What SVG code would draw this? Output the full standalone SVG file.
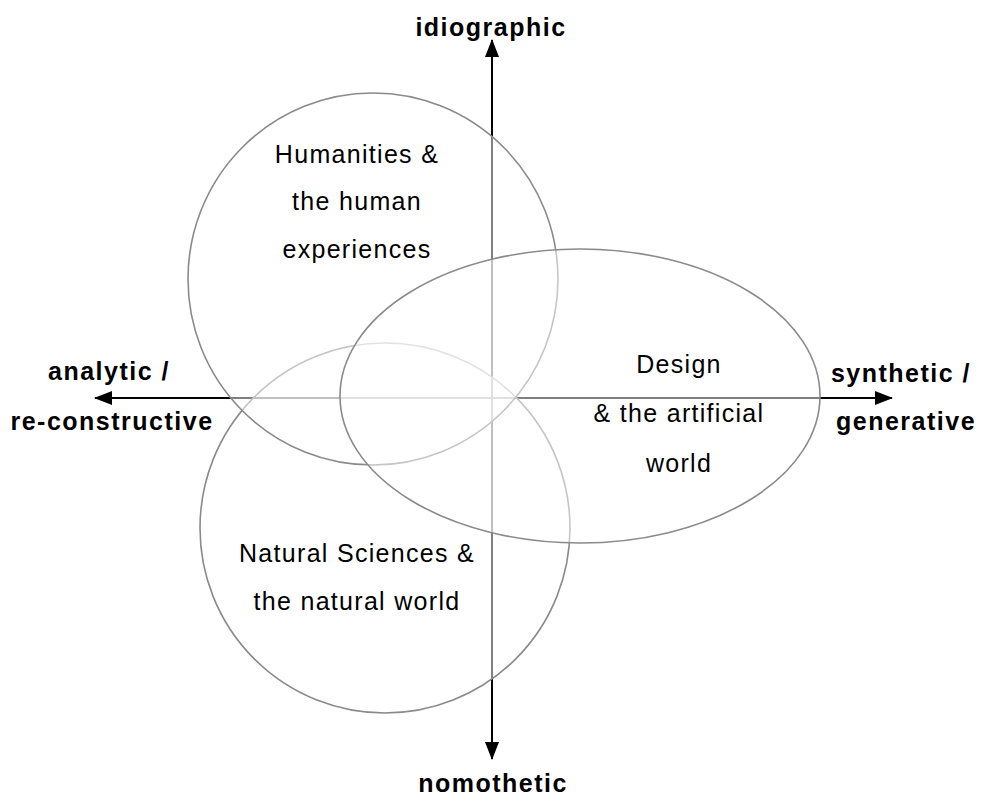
<svg xmlns="http://www.w3.org/2000/svg" width="988" height="799" viewBox="0 0 988 799">
  <style>
    .axis { stroke: #000; stroke-width: 2; fill: none; }
    .region { fill: #fff; fill-opacity: 0.5; stroke: #8a8a8a; stroke-width: 1.6; }
    .lbl { font-family: "Liberation Sans", Arial, sans-serif; font-size: 25px; font-weight: bold; fill: #000; text-anchor: middle; letter-spacing: 1.5px; }
    .txt { font-family: "Liberation Sans", Arial, sans-serif; font-size: 25px; fill: #000; text-anchor: middle; letter-spacing: 1.3px; }
  </style>
  <defs>
    <marker id="arrow" viewBox="0 0 18 14" refX="17" refY="7" markerWidth="18" markerHeight="14" markerUnits="userSpaceOnUse" orient="auto">
      <path d="M0,0 L18,7 L0,14 Z" fill="#000"/>
    </marker>
  </defs>
  <rect width="988" height="799" fill="#fff"/>
  <g id="connectors">
    <line class="axis" x1="492" y1="398" x2="492" y2="40" marker-end="url(#arrow)"/>
    <line class="axis" x1="492" y1="398" x2="492" y2="759" marker-end="url(#arrow)"/>
    <line class="axis" x1="492" y1="398" x2="95" y2="398" marker-end="url(#arrow)"/>
    <line class="axis" x1="492" y1="398" x2="892" y2="398" marker-end="url(#arrow)"/>
  </g>
  <g id="natural-sciences">
    <ellipse class="region" cx="385" cy="528" rx="185" ry="185"/>
    <text class="txt" x="357" y="562">Natural Sciences &amp;</text>
    <text class="txt" x="357" y="610">the natural world</text>
  </g>
  <g id="humanities">
    <ellipse class="region" cx="373" cy="279" rx="185" ry="186"/>
    <text class="txt" x="357" y="163">Humanities &amp;</text>
    <text class="txt" x="357" y="210">the human</text>
    <text class="txt" x="357" y="258">experiences</text>
  </g>
  <g id="design">
    <ellipse class="region" cx="580" cy="396" rx="240" ry="147"/>
    <text class="txt" x="679" y="373">Design</text>
    <text class="txt" x="679" y="422">&amp; the artificial</text>
    <text class="txt" x="679" y="472">world</text>
  </g>
  <g id="axis-labels">
    <text class="lbl" x="491" y="36">idiographic</text>
    <text class="lbl" x="493" y="792">nomothetic</text>
    <text class="lbl" x="109" y="380">analytic /</text>
    <text class="lbl" x="112" y="430">re-constructive</text>
    <text class="lbl" x="901" y="382">synthetic /</text>
    <text class="lbl" x="906" y="430">generative</text>
  </g>
</svg>
